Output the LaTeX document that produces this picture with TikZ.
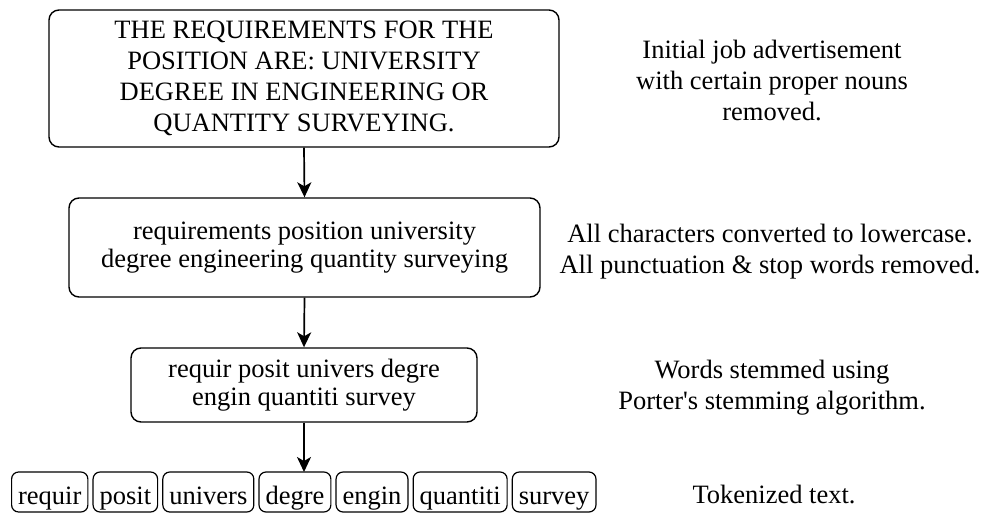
\documentclass[tikz,border=0pt]{standalone}
\usepackage{fontspec}
\setmainfont{Liberation Serif}
\usetikzlibrary{arrows.meta,positioning}
\tikzset{
  stage/.style={draw, line width=1.4pt, rounded corners=10pt, align=center,
    inner sep=0pt},
  token/.style={draw, line width=1.2pt, rounded corners=7pt, inner xsep=6.5pt,
    inner ysep=0pt, minimum height=40pt, text height=25pt, text depth=1pt,
    anchor=west},
  note/.style={align=center, inner sep=0pt},
  flow/.style={line width=1.7pt, -{Stealth[length=15pt,width=14pt,inset=4pt]}}
}
\begin{document}
\begin{tikzpicture}[x=1pt,y=-1pt,
  every node/.append style={font=\fontsize{26.5}{31}\selectfont}]
\useasboundingbox (0,0) rectangle (987,513);

% processing stages
\node[stage, minimum width=510pt, minimum height=137pt] (raw) at (304,78.5)
  {THE REQUIREMENTS FOR THE\\POSITION ARE: UNIVERSITY\\DEGREE IN ENGINEERING OR\\QUANTITY SURVEYING.};
\node[stage, minimum width=471pt, minimum height=99pt,
  font=\fontsize{26.5}{28}\selectfont] (clean) at (304.5,247.5)
  {requirements position university\\degree engineering quantity surveying};
\node[stage, minimum width=346pt, minimum height=74pt,
  font=\fontsize{26.5}{28}\selectfont] (stem) at (304,385)
  {requir posit univers degre\\engin quantiti survey};

% tokens
\node[token] (t1) at (11,492) {requir};
\node[token, right=4pt of t1] (t2) {posit};
\node[token, right=4pt of t2] (t3) {univers};
\node[token, right=4pt of t3] (t4) {degre};
\node[token, right=4pt of t4] (t5) {engin};
\node[token, right=4pt of t5] (t6) {quantiti};
\node[token, right=4pt of t6] (t7) {survey};
\coordinate (tokin) at (304,472);

% descriptions
\node[note] (n1) at (772,80) {Initial job advertisement\\with certain proper nouns\\removed.};
\node[note] (n2) at (770,251.5) {All characters converted to lowercase.\\All punctuation \& stop words removed.};
\node[note] (n3) at (772,388) {Words stemmed using\\Porter\textquotesingle s stemming algorithm.};
\node[note] (n4) at (774,494) {Tokenized text.};

% connectors
\draw[flow] (raw.south) -- (clean.north);
\draw[flow] (clean.south) -- (stem.north);
\draw[flow] (stem.south) -- (tokin);
\end{tikzpicture}
\end{document}
